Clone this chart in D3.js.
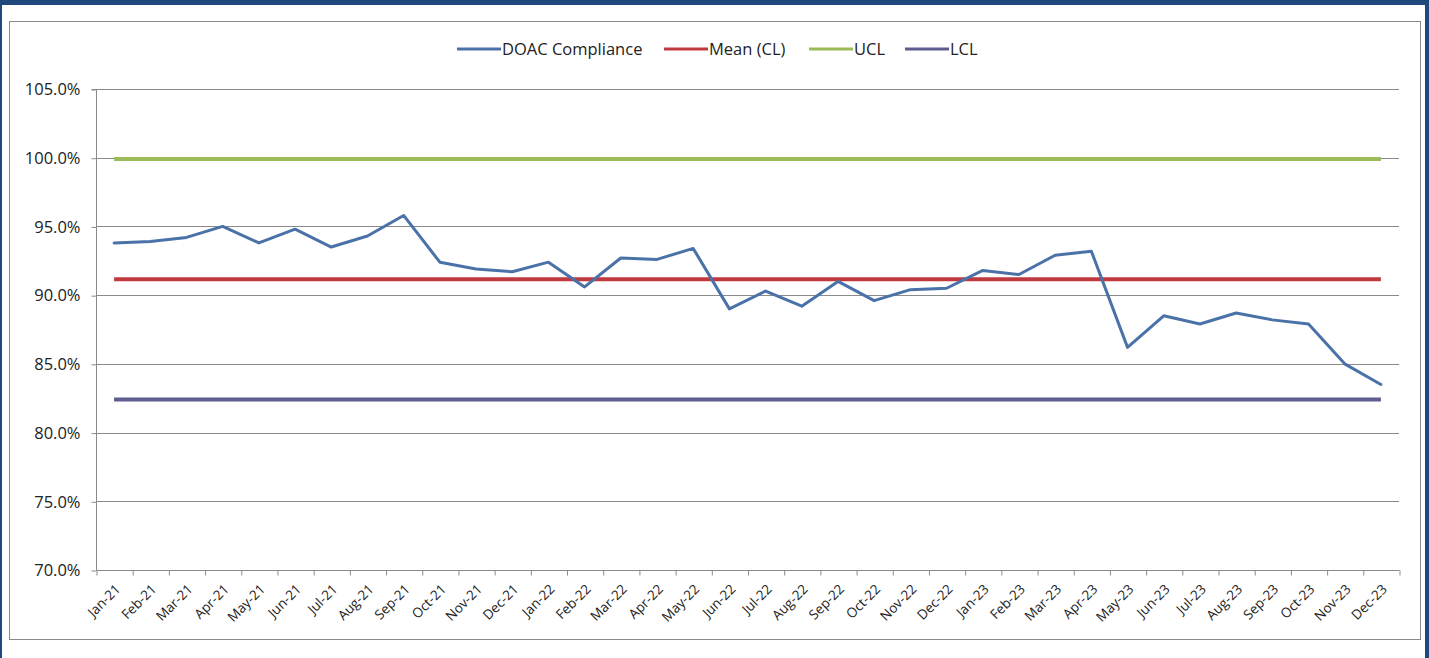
<!DOCTYPE html>
<html>
<head>
<meta charset="utf-8">
<script src="https://cdn.jsdelivr.net/npm/d3@7"></script>
<style>
  html, body { margin: 0; padding: 0; background: #ffffff; }
  svg { display: block; }
  text { font-family: "Open Sans", "Liberation Sans", sans-serif; fill: #222; }
</style>
</head>
<body>
<svg id="chart" width="1429" height="658"></svg>
<script>
// Monthly categories on the x axis
const months = [
  "Jan-21","Feb-21","Mar-21","Apr-21","May-21","Jun-21","Jul-21","Aug-21","Sep-21","Oct-21","Nov-21","Dec-21",
  "Jan-22","Feb-22","Mar-22","Apr-22","May-22","Jun-22","Jul-22","Aug-22","Sep-22","Oct-22","Nov-22","Dec-22",
  "Jan-23","Feb-23","Mar-23","Apr-23","May-23","Jun-23","Jul-23","Aug-23","Sep-23","Oct-23","Nov-23","Dec-23"
];

// DOAC compliance (%) per month
const compliance = [
  93.8, 93.9, 94.2, 95.0, 93.8, 94.8, 93.5, 94.3, 95.8, 92.4, 91.9, 91.7,
  92.4, 90.6, 92.7, 92.6, 93.4, 89.0, 90.3, 89.2, 91.0, 89.6, 90.4, 90.5,
  91.8, 91.5, 92.9, 93.2, 86.2, 88.5, 87.9, 88.7, 88.2, 87.9, 85.0, 83.5
];

// Control limits (%)
const meanCL = 91.15;
const ucl = 99.9;
const lcl = 82.4;

// Y axis ticks (%)
const yTicks = [70, 75, 80, 85, 90, 95, 100, 105];

// Legend entries
const legendLabels = ["DOAC Compliance", "Mean (CL)", "UCL", "LCL"];
const legendColors = ["#4a72a8", "#c0393f", "#9bbb59", "#5f5c8f"];

const svg = d3.select("#chart");
const W = 1429, H = 658;

// Outer dark-blue frame
svg.append("rect").attr("x", 0).attr("y", 0).attr("width", W).attr("height", H).attr("fill", "#1f497d");
svg.append("rect").attr("x", 2).attr("y", 5).attr("width", 1423).attr("height", H - 5).attr("fill", "#ffffff");

// Chart area border
svg.append("rect")
  .attr("x", 9.5).attr("y", 21.5).attr("width", 1411).attr("height", 618)
  .attr("fill", "#ffffff").attr("stroke", "#8a8a8a").attr("stroke-width", 1);

const plot = { left: 96, right: 1399, top: 89, bottom: 570 };

const y = d3.scaleLinear().domain([70, 105]).range([plot.bottom, plot.top]);
const xb = d3.scaleLinear().domain([0, months.length]).range([plot.left, plot.right]);
const xc = i => xb(i + 0.5);

// Horizontal gridlines
svg.append("g").selectAll("line")
  .data(yTicks.filter(t => t > 70))
  .join("line")
  .attr("x1", plot.left).attr("x2", plot.right)
  .attr("y1", d => Math.round(y(d)) + 0.5).attr("y2", d => Math.round(y(d)) + 0.5)
  .attr("stroke", "#8a8a8a").attr("stroke-width", 1);

// Y axis
const yAxis = d3.axisLeft(y).tickValues(yTicks).tickSize(5).tickPadding(11)
  .tickFormat(d => d.toFixed(1) + "%");
const gy = svg.append("g").attr("transform", `translate(${plot.left + 0.5},0.5)`).call(yAxis);
gy.select(".domain").attr("stroke", "#8a8a8a").attr("d", `M-5,${y(105)}H0V${y(70)}`);
gy.selectAll(".tick line").attr("stroke", "#8a8a8a");
gy.selectAll(".tick text").style("font-size", "16.5px").attr("fill", "#222");

// X axis with tick marks between categories
const xAxis = d3.axisBottom(xb).tickValues(d3.range(0, months.length + 1)).tickSize(5).tickFormat("");
const gx = svg.append("g").attr("transform", `translate(0.5,${Math.round(plot.bottom) + 0.5})`).call(xAxis);
gx.select(".domain").attr("stroke", "#8a8a8a").attr("d", `M${plot.left},0H${plot.right}`);
gx.selectAll(".tick line").attr("stroke", "#8a8a8a");

// Rotated month labels
svg.append("g").selectAll("text")
  .data(months)
  .join("text")
  .attr("transform", (d, i) => `translate(${xc(i) + 7},${plot.bottom + 20}) rotate(-45)`)
  .attr("text-anchor", "end")
  .style("font-size", "13.5px")
  .attr("fill", "#222")
  .text(d => d);

// Control lines spanning first to last month
const spanX1 = xc(0), spanX2 = xc(months.length - 1);
const controls = [
  { v: ucl, color: legendColors[2] },
  { v: lcl, color: legendColors[3] },
  { v: meanCL, color: legendColors[1] }
];
svg.append("g").selectAll("line")
  .data(controls)
  .join("line")
  .attr("x1", spanX1).attr("x2", spanX2)
  .attr("y1", d => y(d.v)).attr("y2", d => y(d.v))
  .attr("stroke", d => d.color).attr("stroke-width", 4);

// Compliance line
const line = d3.line().x((d, i) => xc(i)).y(d => y(d));
svg.append("path")
  .datum(compliance)
  .attr("d", line)
  .attr("fill", "none")
  .attr("stroke", legendColors[0])
  .attr("stroke-width", 3)
  .attr("stroke-linejoin", "round")
  .attr("stroke-linecap", "round");

// Legend
const legendX = [457, 664, 809, 905];
const lg = svg.append("g").selectAll("g")
  .data(legendLabels)
  .join("g")
  .attr("transform", (d, i) => `translate(${legendX[i]},49)`);
lg.append("line")
  .attr("x1", 0).attr("x2", 44).attr("y1", 0).attr("y2", 0)
  .attr("stroke", (d, i) => legendColors[i]).attr("stroke-width", 3);
lg.append("text")
  .attr("x", 45).attr("y", 0).attr("dy", "0.35em")
  .style("font-size", "16.5px")
  .attr("fill", "#222")
  .text(d => d);
</script>
</body>
</html>
